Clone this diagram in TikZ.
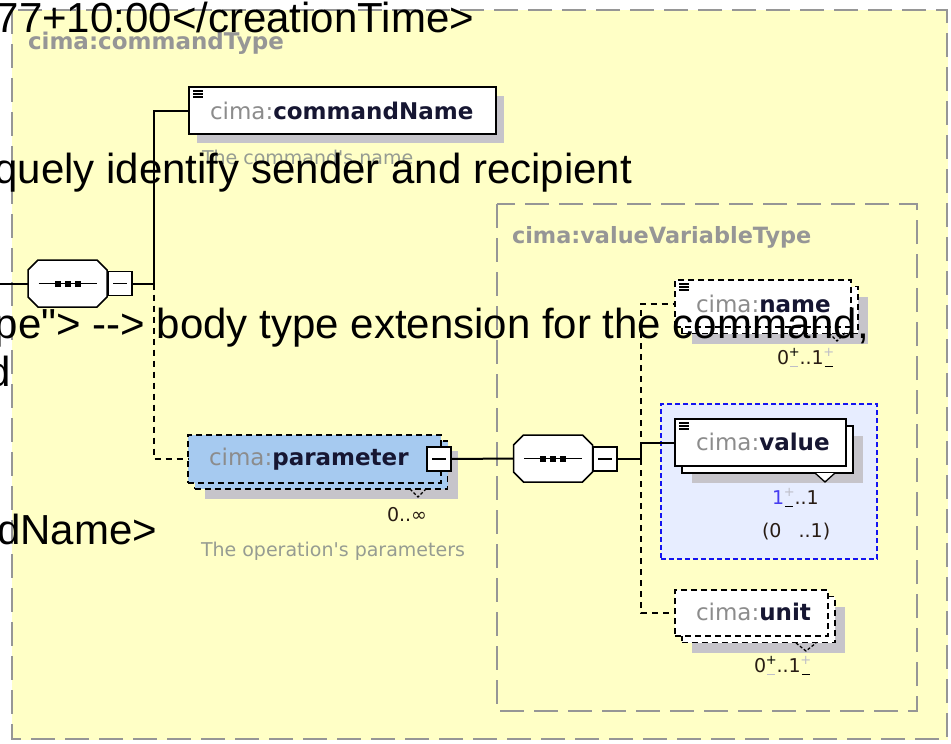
\documentclass[tikz,border=0pt]{standalone}
\usepackage{fontspec}
\setmainfont{Liberation Sans}[Ligatures=TeXOff]
\newfontfamily\dvs{DejaVu Sans}
\usetikzlibrary{shadows,calc}

\definecolor{paper}{RGB}{255,255,198}
\definecolor{framegrey}{RGB}{150,150,150}
\definecolor{shadegrey}{RGB}{198,196,202}
\definecolor{parblue}{RGB}{166,202,240}
\definecolor{selfill}{RGB}{231,237,255}
\definecolor{selline}{RGB}{20,20,240}
\definecolor{pfxgrey}{RGB}{140,140,140}
\definecolor{faintgrey}{RGB}{190,190,200}
\definecolor{navy}{RGB}{22,22,50}
\definecolor{docgrey}{RGB}{150,156,146}
\definecolor{occdark}{RGB}{40,28,20}
\definecolor{occblue}{RGB}{70,60,240}

% qualified element name: grey prefix, bold local name
\newcommand\qn[1]{{\color{pfxgrey}cima:}{\bfseries\color{navy}#1}}
% stacked plus/minus toggle of an occurrence bound
\newcommand\pmk[2]{\makebox[0.55em][c]{\makebox[0pt][c]{\raisebox{0.42em}{\textcolor{#1}{\fontsize{13}{13}\selectfont+}}}\makebox[0pt][c]{\raisebox{-0.12em}{\textcolor{#2}{\rule{0.42em}{1.6pt}}}}}}
% minus sign inside a collapse box
\newcommand\minusglyph[1]{\draw[line width=1.5pt] ([xshift=-7pt]#1.center) -- ([xshift=7pt]#1.center);}
% octagon outline of a compositor node (path only, options given by the caller)
\newcommand\octpath[1]{([xshift=10pt]#1.north west) -- ([xshift=-10pt]#1.north east) -- ([yshift=-10pt]#1.north east) -- ([yshift=10pt]#1.south east) -- ([xshift=-10pt]#1.south east) -- ([xshift=10pt]#1.south west) -- ([yshift=10pt]#1.south west) -- ([yshift=-10pt]#1.north west) -- cycle}
% sequence compositor: shadow, octagon and the three-dot icon
\newcommand\seqdraw[1]{%
  \fill[shadegrey, xshift=10pt, yshift=-9pt] \octpath{#1};
  \draw[line width=1.5pt, fill=white] \octpath{#1};
  \draw[line width=1.5pt] ([xshift=-29pt]#1.center) -- ([xshift=29pt]#1.center);
  \foreach \d in {-10,0,10} \fill ([xshift=\d pt-3pt,yshift=-3pt]#1.center) rectangle ([xshift=\d pt+3pt,yshift=3pt]#1.center);}
% "has text content" icon in the top left corner of an element box
\newcommand\listicon[1]{\foreach \k in {4,7,10} \draw[line width=1.2pt] ([xshift=4pt,yshift=-\k pt]#1.north west) -- ([xshift=14pt,yshift=-\k pt]#1.north west);}

\begin{document}
\begin{tikzpicture}[x=1pt,y=-1pt,
  every node/.style={inner sep=0pt, outer sep=0pt},
  wire/.style={line width=2pt},
  dashwire/.style={line width=2pt, dash pattern=on 6pt off 5pt},
  outerframe/.style={draw=framegrey, line width=2.4pt, dash pattern=on 24pt off 10pt},
  elbox/.style={draw=black, line width=2pt, fill=white},
  optbox/.style={draw=black, line width=1.8pt, dash pattern=on 6pt off 4pt},
  boxshadow/.style={drop shadow={shadow xshift=10pt, shadow yshift=-10pt, fill=shadegrey, opacity=1}},
  seqnode/.style={rectangle, minimum width=79pt, minimum height=47pt},
  minusbox/.style={draw=black, line width=1.5pt, fill=white, minimum size=24pt},
  qname/.style={font=\dvs\fontsize{23}{26}\selectfont, anchor=west},
  typelabel/.style={font=\dvs\bfseries\fontsize{23}{26}\selectfont, text=framegrey, anchor=west},
  doc/.style={font=\dvs\fontsize{19}{22}\selectfont, text=docgrey, anchor=west},
  occ/.style={font=\dvs\fontsize{19}{22}\selectfont, text=occdark},
  marker/.style={line width=1.3pt, dash pattern=on 3pt off 2pt},
  xmltext/.style={font=\fontsize{42}{48}\selectfont, anchor=base east, text=black},
]
\useasboundingbox (0,0) rectangle (951,744);
\clip (0,0) rectangle (951,744);
\fill[white] (0,0) rectangle (951,744);

% complex type frames
\fill[paper] (12,10) rectangle (948,740);
\draw[outerframe] (12,10) rectangle (947,739);
\draw[outerframe, line width=2pt] (497,204) rectangle (917,711);
\node[typelabel] (tcmd) at (28,43) {cima:commandType};
\node[typelabel, font=\dvs\bfseries\fontsize{22.4}{26}\selectfont] (tval) at (512,237) {cima:valueVariableType};

% root sequence
\node[seqnode] (s1) at (67.5,283.5) {};
\seqdraw{s1}
\node[minusbox] (m1) at (120,283.5) {};
\minusglyph{m1}

% commandName
\node[elbox, minimum width=307pt, minimum height=47pt,
  drop shadow={shadow xshift=8pt, shadow yshift=-9pt, fill=shadegrey, opacity=1}] (cname) at (342.5,110.5) {};
\listicon{cname}
\node[qname] (cnameT) at (210,111) {\qn{commandName}};
\node[doc] (cnameD) at (202,157) {The command's name};

% parameter (repeated, optional)
\node[optbox, fill=parblue, minimum width=253pt, minimum height=48pt, boxshadow] (parB) at (321,465) {};
\node[optbox, fill=parblue, minimum width=253pt, minimum height=48pt] (par) at (314.5,459) {};
\draw[marker] (410,489) -- (418,497) -- (426,489);
\node[qname] (parT) at (209,459) {\qn{parameter}};
\node[minusbox] (mp) at (439,459) {};
\minusglyph{mp}
\node[occ, anchor=east] (parO) at (427,515) {0..∞};
\node[doc] (parD) at (201,551) {The operation's parameters};

% inner sequence
\node[seqnode] (s2) at (553,458.5) {};
\seqdraw{s2}
\node[minusbox] (m2) at (605,459) {};
\minusglyph{m2}

% name
\node[optbox, fill=white, minimum width=176pt, minimum height=47pt, boxshadow] (nameB) at (770,310) {};
\node[optbox, fill=white, minimum width=176pt, minimum height=47pt] (name) at (763,303.5) {};
\draw[marker] (829,333) -- (837,341) -- (845,333);
\listicon{name}
\node[qname] (nameT) at (696,304) {\qn{name}};
\node[occ, anchor=west] (nameO) at (777,358) {0\pmk{black}{faintgrey}..1\pmk{faintgrey}{black}};

% value (selected)
\node[draw=selline, fill=selfill, line width=1.5pt, dash pattern=on 5pt off 3pt,
  minimum width=216pt, minimum height=155pt] (vsel) at (769,481.5) {};
\node[elbox, minimum width=171pt, minimum height=47pt, boxshadow] (valB) at (767.5,449.5) {};
\draw[line width=1.3pt, fill=white] (815,473) -- (825,482) -- (835,473);
\node[elbox, minimum width=171pt, minimum height=47pt] (val) at (760.5,442.5) {};
\listicon{val}
\node[qname] (valT) at (696,442) {\qn{value}};
\node[occ, anchor=west] (valO) at (772,498) {{\color{occblue}1}\pmk{faintgrey}{black}..1};
\node[occ, anchor=west] (valR) at (762,532) {(0\hspace{0.9em}..1)};

% unit
\node[optbox, fill=white, minimum width=153pt, minimum height=46pt, boxshadow] (unitB) at (758.5,619.5) {};
\node[optbox, fill=white, minimum width=153pt, minimum height=46pt] (unit) at (751.5,613) {};
\draw[marker] (796,643) -- (806,651) -- (816,643);
\node[qname] (unitT) at (696,612) {\qn{unit}};
\node[occ, anchor=west] (unitO) at (754,666) {0\pmk{black}{faintgrey}..1\pmk{faintgrey}{black}};

% connectors
\coordinate (rootin) at (0,283.5);
\coordinate (j1) at (154,283.5);
\coordinate (j2) at (641,459);
\draw[wire] (rootin) -- (s1.west);
\draw[wire] (m1.east) -- (j1);
\draw[dashwire] (j1) |- (par.west);
\draw[wire] (j1) |- (cname.west);
\draw[wire] (mp.east) -- (s2.west);
\draw[wire] (m2.east) -- (j2);
\draw[dashwire] (j2) |- (name.west);
\draw[dashwire] (j2) |- (unit.west);
\draw[wire] (j2) |- (val.west);

% XML source text printed over the diagram
\node[xmltext] (x1) at (474,32) {77+10:00</creationTime>};
\node[xmltext] (x2) at (632,183) {quely identify sender and recipient};
\node[xmltext] (x3) at (869,338) {pe"> --> body type extension for the command,};
\node[xmltext] (x4) at (11,386) {d};
\node[xmltext] (x5) at (157,544) {dName>};
\end{tikzpicture}
\end{document}
